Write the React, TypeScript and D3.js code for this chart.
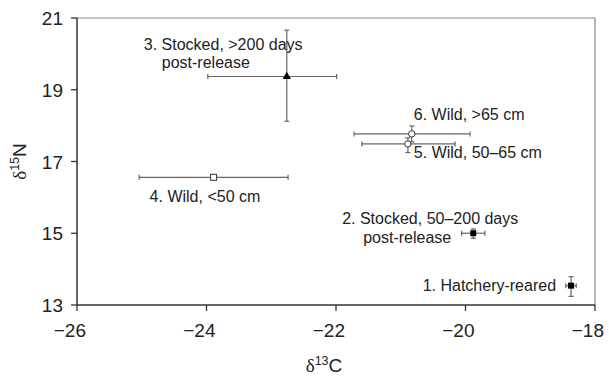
import React from "react";
import * as d3 from "d3";

const groups = [
  ["1. Hatchery-reared"],
  ["2. Stocked, 50–200 days", "post-release"],
  ["3. Stocked, >200 days", "post-release"],
  ["4. Wild, <50 cm"],
  ["5. Wild, 50–65 cm"],
  ["6. Wild, >65 cm"],
];
const d13C = [-18.37, -19.88, -22.76, -23.89, -20.89, -20.83];
const d15N = [13.54, 15.0, 19.37, 16.56, 17.49, 17.77];
const cLow = [-18.45, -20.06, -23.98, -25.04, -21.6, -21.72];
const cHigh = [-18.29, -19.7, -21.99, -22.74, -20.16, -19.93];
const nLow = [13.24, 14.86, 18.12, 16.53, 17.25, 17.55];
const nHigh = [13.79, 15.12, 20.66, 16.59, 17.66, 17.99];
const markers = ["filledSquare", "filledSquare", "triangle", "openSquare", "openCircle", "openCircle"];
const xTicks = [-26, -24, -22, -20, -18];
const yTicks = [13, 15, 17, 19, 21];

// label layout: pixel offsets from the point, anchor
const labelLayout = [
  { dx: -15, dy: 5.5, anchor: "end" },
  { dx: 45, dy: -9.5, anchor: "end", dx2: -22, dy2: 9.5 },
  { dx: -143, dy: -26.5, anchor: "start", dx2: -125, dy2: -8 },
  { dx: -64, dy: 24.5, anchor: "start" },
  { dx: 6, dy: 14.5, anchor: "start" },
  { dx: 2, dy: -13.5, anchor: "start" },
];

const W = 609;
const H = 379;
const sans = "'Liberation Sans', Arial, Helvetica, sans-serif";
const serif = "'Liberation Serif', 'Times New Roman', serif";

export default function App() {
  const x = d3.scaleLinear().domain([-26, -18]).range([77, 595]);
  const y = d3.scaleLinear().domain([13, 21]).range([305, 18]);
  const barColor = "#666";
  const cap = 2.5;
  const tickFont = 19;

  const fmt = (v: number) => (v < 0 ? "\u2212" + Math.abs(v) : String(v));

  return (
    <svg
      width={W}
      height={H}
      style={{ position: "absolute", left: 0, top: 0, background: "#fff" }}
    >
      {/* frame */}
      <line x1={x(-26)} x2={x(-18)} y1={y(21)} y2={y(21)} stroke="#888" strokeWidth={1.2} />
      <line x1={x(-18)} x2={x(-18)} y1={y(21)} y2={y(13)} stroke="#888" strokeWidth={1.2} />
      <line x1={x(-26)} x2={x(-18)} y1={y(13)} y2={y(13)} stroke="#333" strokeWidth={1.5} />
      <line x1={x(-26)} x2={x(-26)} y1={y(21)} y2={y(13)} stroke="#333" strokeWidth={1.5} />

      {/* ticks */}
      {xTicks.map((t) => (
        <g key={"x" + t}>
          <line x1={x(t)} x2={x(t)} y1={y(13)} y2={y(13) + 6} stroke="#333" strokeWidth={1.3} />
          <text x={x(t) + 9} y={337} textAnchor="end" fontFamily={sans} fontSize={tickFont} fill="#222">
            {fmt(t)}
          </text>
        </g>
      ))}
      {yTicks.map((t) => (
        <g key={"y" + t}>
          <line x1={x(-26) - 6} x2={x(-26)} y1={y(t)} y2={y(t)} stroke="#333" strokeWidth={1.3} />
          <text x={63} y={y(t) + 7} textAnchor="end" fontFamily={sans} fontSize={tickFont} fill="#222">
            {t}
          </text>
        </g>
      ))}

      {/* axis titles */}
      <text x={324} y={372} textAnchor="middle" fontSize={19} fill="#222" fontFamily={sans}>
        <tspan fontFamily={serif}>δ</tspan>
        <tspan fontSize={12.5} dy={-7}>13</tspan>
        <tspan dy={7}>C</tspan>
      </text>
      <text
        transform={`translate(26, ${(y(13) + y(21)) / 2}) rotate(-90)`}
        textAnchor="middle"
        fontSize={19}
        fill="#222"
        fontFamily={sans}
      >
        <tspan fontFamily={serif}>δ</tspan>
        <tspan fontSize={12.5} dy={-7}>15</tspan>
        <tspan dy={7}>N</tspan>
      </text>

      {/* error bars */}
      {d13C.map((c, i) => {
        const px = x(c);
        const py = y(d15N[i]);
        return (
          <g key={"e" + i} stroke={barColor} strokeWidth={1.2}>
            <line x1={x(cLow[i])} x2={x(cHigh[i])} y1={py} y2={py} />
            <line x1={x(cLow[i])} x2={x(cLow[i])} y1={py - cap} y2={py + cap} />
            <line x1={x(cHigh[i])} x2={x(cHigh[i])} y1={py - cap} y2={py + cap} />
            <line x1={px} x2={px} y1={y(nLow[i])} y2={y(nHigh[i])} />
            <line x1={px - cap} x2={px + cap} y1={y(nLow[i])} y2={y(nLow[i])} />
            <line x1={px - cap} x2={px + cap} y1={y(nHigh[i])} y2={y(nHigh[i])} />
          </g>
        );
      })}

      {/* markers */}
      {d13C.map((c, i) => {
        const px = x(c);
        const py = y(d15N[i]);
        const m = markers[i];
        if (m === "filledSquare")
          return <rect key={"m" + i} x={px - 3} y={py - 3} width={6} height={6} fill="#000" />;
        if (m === "openSquare")
          return <rect key={"m" + i} x={px - 3} y={py - 3} width={6} height={6} fill="#fff" stroke="#333" strokeWidth={1} />;
        if (m === "openCircle")
          return <circle key={"m" + i} cx={px} cy={py} r={3.2} fill="#fff" stroke="#333" strokeWidth={1} />;
        const tri = d3.symbol(d3.symbolTriangle, 30)();
        return <path key={"m" + i} d={tri as string} transform={`translate(${px},${py})`} fill="#000" />;
      })}

      {/* labels */}
      {groups.map((g, i) => {
        const px = x(d13C[i]);
        const py = y(d15N[i]);
        const L: any = labelLayout[i];
        return (
          <g key={"l" + i} fontFamily={sans} fontSize={16} fill="#222">
            <text x={px + L.dx} y={py + L.dy} textAnchor={L.anchor}>
              {g[0]}
            </text>
            {g[1] && (
              <text x={px + L.dx2} y={py + L.dy2} textAnchor={L.anchor}>
                {g[1]}
              </text>
            )}
          </g>
        );
      })}
    </svg>
  );
}
